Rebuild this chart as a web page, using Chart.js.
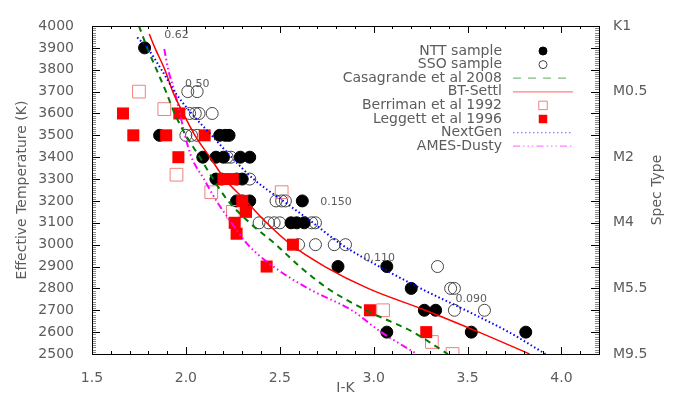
<!DOCTYPE html>
<html>
<head>
<meta charset="utf-8">
<script src="https://cdn.jsdelivr.net/npm/chart.js@4.4.1/dist/chart.umd.min.js"></script>
<style>
  html, body { margin: 0; padding: 0; background: #fff; }
  #chart { display: block; }
</style>
</head>
<body>
<canvas id="chart" width="681" height="409"></canvas>
<script>
// --- Axis ticks ---
const xTickValues = [1.5, 2.0, 2.5, 3.0, 3.5, 4.0];
const yTickValues = [2500, 2600, 2700, 2800, 2900, 3000, 3100, 3200, 3300, 3400, 3500, 3600, 3700, 3800, 3900, 4000];
const specTypeTemps = [4000, 3700, 3400, 3100, 2800, 2500];
const specTypeLabels = ['K1', 'M0.5', 'M2', 'M4', 'M5.5', 'M9.5'];

// --- NTT sample (filled circles) ---
const nttIK   = [1.78, 1.86, 2.18, 2.21, 2.23, 2.09, 2.16, 2.20, 2.29, 2.34, 2.16, 2.19, 2.27, 2.30,
                 2.27, 2.30, 2.34, 2.62, 2.56, 2.59, 2.63, 2.81, 3.07, 3.20, 3.27, 3.33, 3.07, 3.52, 3.81];
const nttTeff = [3900, 3500, 3500, 3500, 3500, 3400, 3400, 3400, 3400, 3400, 3300, 3300, 3300, 3300,
                 3200, 3200, 3200, 3200, 3100, 3100, 3100, 2900, 2900, 2800, 2700, 2700, 2600, 2600, 2600];

// --- SSO sample (open circles) ---
const ssoIK   = [2.01, 2.06, 2.02, 2.05, 2.07, 2.14, 2.00, 2.03, 2.06, 2.22, 2.24, 2.34,
                 2.48, 2.51, 2.53, 2.39, 2.44, 2.47, 2.50, 2.67, 2.69, 2.60, 2.69, 2.79, 2.85,
                 3.34, 3.41, 3.43, 3.43, 3.59];
const ssoTeff = [3700, 3700, 3600, 3600, 3600, 3600, 3500, 3500, 3500, 3400, 3400, 3300,
                 3200, 3200, 3200, 3100, 3100, 3100, 3100, 3100, 3100, 3000, 3000, 3000, 3000,
                 2900, 2800, 2800, 2700, 2700];

// --- Berriman et al 1992 (open squares) ---
const berrimanIK   = [1.75, 1.885, 1.95, 2.135, 2.51, 2.25, 3.05, 3.31, 3.42];
const berrimanTeff = [3700, 3620, 3320, 3240, 3240, 3150, 2700, 2555, 2500];

// --- Leggett et al 1996 (filled squares) ---
const leggettIK   = [1.665, 1.72, 1.895, 1.965, 1.96, 2.10, 2.20, 2.25, 2.30, 2.32, 2.26, 2.27, 2.43, 2.57, 2.98, 3.28];
const leggettTeff = [3600, 3500, 3500, 3600, 3400, 3500, 3300, 3300, 3200, 3150, 3100, 3050, 2900, 3000, 2700, 2600];

// --- Model / relation curves ---
const casaIK   = [1.75, 1.794, 1.894, 1.94, 2.00, 2.074, 2.145, 2.225, 2.34, 2.48, 2.606, 2.755, 2.96, 3.21, 3.395];
const casaTeff = [4000, 3900, 3700, 3600, 3500, 3400, 3300, 3200, 3100, 3000, 2900, 2800, 2700, 2600, 2500];

const settlIK   = [1.805, 1.835, 1.888, 1.93, 1.986, 2.048, 2.128, 2.207, 2.32, 2.43, 2.56, 2.74, 2.97, 3.275, 3.56, 3.83];
const settlTeff = [3963, 3900, 3800, 3700, 3600, 3500, 3400, 3300, 3200, 3100, 3000, 2900, 2800, 2700, 2600, 2500];

const nextgenIK   = [1.741, 1.794, 1.87, 1.94, 2.03, 2.137, 2.243, 2.36, 2.518, 2.677, 2.83, 3.03, 3.25, 3.49, 3.72, 3.915];
const nextgenTeff = [3948, 3900, 3800, 3700, 3600, 3500, 3400, 3300, 3200, 3100, 3000, 2900, 2800, 2700, 2600, 2500];

const dustyIK   = [1.885, 1.906, 1.94, 1.968, 1.995, 2.03, 2.096, 2.163, 2.243, 2.33, 2.466, 2.65, 2.883, 3.04, 3.23];
const dustyTeff = [3895, 3800, 3700, 3600, 3500, 3400, 3300, 3200, 3100, 3000, 2900, 2800, 2700, 2600, 2500];

// --- Mass labels along the tracks ---
const massText = ['0.62', '0.50', '0.150', '0.110', '0.090'];
const massIK   = [1.95, 2.06, 2.80, 3.03, 3.52];
const massTeff = [3960, 3735, 3193, 2940, 2750];

const TEXT_GREY = '#5c5c5c';
const toPoints = (xs, ys) => xs.map((x, i) => ({ x: x, y: ys[i] }));

// --- Frame, inward ticks, mass labels, right title and legend ---
const decorations = {
    id: 'decorations',
    afterDatasetsDraw(chart) {
        const { ctx, chartArea: a, scales: { x, y } } = chart;
        ctx.save();

        // minor + major ticks on all four sides, pointing inwards
        ctx.lineWidth = 1;
        for (let t = 2500; t <= 4000; t += 10) {
            const major = t % 100 === 0;
            const p = Math.round(y.getPixelForValue(t)) + 0.5;
            const len = major ? 8 : 4;
            ctx.strokeStyle = major ? '#000' : '#888';
            ctx.beginPath();
            ctx.moveTo(a.left, p); ctx.lineTo(a.left + len, p);
            ctx.moveTo(a.right, p); ctx.lineTo(a.right - len, p);
            ctx.stroke();
        }
        for (let i = 15; i <= 42; i++) {
            const major = i % 5 === 0;
            const p = Math.round(x.getPixelForValue(i / 10)) + 0.5;
            const len = major ? 7 : 3;
            ctx.strokeStyle = '#000';
            ctx.beginPath();
            ctx.moveTo(p, a.bottom); ctx.lineTo(p, a.bottom - len);
            ctx.moveTo(p, a.top); ctx.lineTo(p, a.top + len);
            ctx.stroke();
        }
        ctx.strokeStyle = '#000';
        ctx.strokeRect(a.left + 0.5, a.top + 0.5, a.right - a.left, a.bottom - a.top);

        // mass labels
        ctx.fillStyle = TEXT_GREY;
        ctx.font = '11px "DejaVu Sans"';
        ctx.textAlign = 'center';
        ctx.textBaseline = 'middle';
        massText.forEach((txt, i) => {
            ctx.fillText(txt, x.getPixelForValue(massIK[i]), y.getPixelForValue(massTeff[i]));
        });

        // right axis title, reading bottom-to-top
        ctx.font = '14px "DejaVu Sans"';
        ctx.save();
        ctx.translate(657, (a.top + a.bottom) / 2);
        ctx.rotate(-Math.PI / 2);
        ctx.fillText('Spec Type', 0, 0);
        ctx.restore();

        // legend: text right-aligned, symbol on the right
        const textRight = a.left + 410;
        const symX = a.left + 451;
        chart.data.datasets.forEach((ds, i) => {
            const rowY = a.top + 25 + i * 13.6;
            ctx.fillStyle = TEXT_GREY;
            ctx.textAlign = 'right';
            ctx.fillText(ds.label, textRight, rowY);
            if (ds.showLine) {
                ctx.save();
                ctx.globalAlpha = 0.5;
                ctx.strokeStyle = ds.borderColor;
                ctx.lineWidth = 1.2;
                ctx.setLineDash(ds.legendDash || ds.borderDash || []);
                ctx.beginPath();
                ctx.moveTo(a.left + 421, rowY);
                ctx.lineTo(a.left + 481, rowY);
                ctx.stroke();
                ctx.restore();
            } else {
                ctx.fillStyle = ds.backgroundColor;
                ctx.strokeStyle = ds.borderColor;
                ctx.lineWidth = 1;
                Chart.helpers.drawPoint(ctx, {
                    pointStyle: ds.pointStyle,
                    radius: ds.pointStyle === 'rect' ? 6 : 4,
                    rotation: 0,
                    borderWidth: ds.borderWidth
                }, symX, rowY);
            }
        });
        ctx.restore();
    }
};

const ctx = document.getElementById('chart').getContext('2d');
Chart.defaults.font.family = '"DejaVu Sans", sans-serif';
Chart.defaults.font.size = 14;
Chart.defaults.color = TEXT_GREY;

new Chart(ctx, {
    type: 'scatter',
    data: {
        datasets: [
            { label: 'NTT sample', data: toPoints(nttIK, nttTeff), pointStyle: 'circle', pointRadius: 6,
              backgroundColor: '#000', borderColor: '#000', borderWidth: 1, order: 8, clip: 0 },
            { label: 'SSO sample', data: toPoints(ssoIK, ssoTeff), pointStyle: 'circle', pointRadius: 6,
              backgroundColor: 'rgba(0,0,0,0)', borderColor: '#444', borderWidth: 1, order: 9, clip: 0 },
            { label: 'Casagrande et al 2008', data: toPoints(casaIK, casaTeff), showLine: true, pointRadius: 0,
              cubicInterpolationMode: 'monotone',
              borderColor: '#007a00', borderWidth: 2, borderDash: [6, 5], legendDash: [8, 7], order: 3, clip: 0 },
            { label: 'BT-Settl', data: toPoints(settlIK, settlTeff), showLine: true, pointRadius: 0,
              cubicInterpolationMode: 'monotone',
              borderColor: '#ff0000', borderWidth: 1.5, order: 2, clip: 0 },
            { label: 'Berriman et al 1992', data: toPoints(berrimanIK, berrimanTeff), pointStyle: 'rect', pointRadius: 9,
              backgroundColor: 'rgba(0,0,0,0)', borderColor: '#f08080', borderWidth: 1, order: 7, clip: 0 },
            { label: 'Leggett et al 1996', data: toPoints(leggettIK, leggettTeff), pointStyle: 'rect', pointRadius: 8.5,
              backgroundColor: '#ff0000', borderColor: '#ff0000', borderWidth: 0, order: 6, clip: 0 },
            { label: 'NextGen', data: toPoints(nextgenIK, nextgenTeff), showLine: true, pointRadius: 0,
              cubicInterpolationMode: 'monotone',
              borderColor: '#0000ff', borderWidth: 2, borderDash: [1.5, 2.5], order: 1, clip: 0 },
            { label: 'AMES-Dusty', data: toPoints(dustyIK, dustyTeff), showLine: true, pointRadius: 0,
              cubicInterpolationMode: 'monotone',
              borderColor: '#ff00ff', borderWidth: 2, borderDash: [7, 3, 1.5, 3, 1.5, 3, 1.5, 3], order: 4, clip: 0 }
        ]
    },
    options: {
        responsive: false,
        animation: false,
        devicePixelRatio: 1,
        layout: { padding: { top: 26, left: 0, right: 0, bottom: 0 } },
        plugins: { legend: { display: false }, tooltip: { enabled: false } },
        scales: {
            x: {
                type: 'linear', min: 1.5, max: 4.2,
                grid: { display: false }, border: { display: false },
                afterBuildTicks: s => { s.ticks = xTickValues.map(v => ({ value: v })); },
                afterFit: s => { s.height = 55; },
                ticks: { padding: 8, callback: v => v.toFixed(1) },
                title: { display: true, text: 'I-K', padding: { top: 0, bottom: 12 } }
            },
            y: {
                type: 'linear', position: 'left', min: 2500, max: 4000,
                grid: { display: false }, border: { display: false },
                afterBuildTicks: s => { s.ticks = yTickValues.map(v => ({ value: v })); },
                afterFit: s => { s.width = 92; },
                ticks: { padding: 10, callback: v => String(v) },
                title: { display: true, text: 'Effective Temperature (K)', padding: { top: 14, bottom: 0 } }
            },
            spec: {
                type: 'linear', position: 'right', min: 2500, max: 4000,
                grid: { display: false }, border: { display: false },
                afterBuildTicks: s => { s.ticks = specTypeTemps.map(v => ({ value: v })); },
                afterFit: s => { s.width = 82; },
                ticks: { padding: 6, callback: v => specTypeLabels[specTypeTemps.indexOf(v)] }
            }
        }
    },
    plugins: [decorations]
});
</script>
</body>
</html>
